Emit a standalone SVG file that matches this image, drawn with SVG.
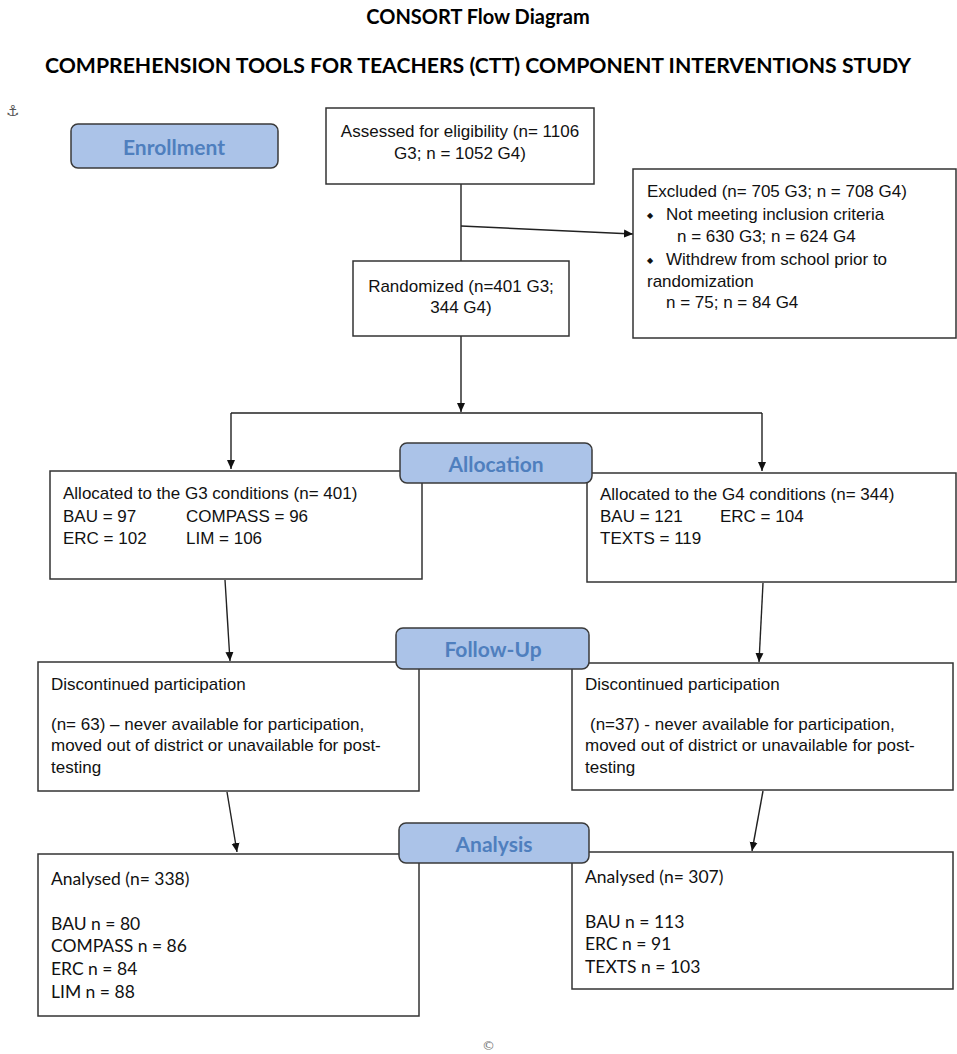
<svg xmlns="http://www.w3.org/2000/svg" width="957" height="1054" viewBox="0 0 957 1054">
<style>
.box{fill:#fff;stroke:#333;stroke-width:1.5}
.lab{fill:#abc3e8;stroke:#3a3a3a;stroke-width:1.5}
.labt{font-family:Lato,"Open Sans",sans-serif;font-weight:bold;font-size:21px;fill:#4f7fbe;text-anchor:middle}
.t{font-family:"Liberation Sans",Arial,sans-serif;font-size:17px;fill:#111}
.c{font-family:Lato,"Open Sans",sans-serif;font-size:17.5px;fill:#111}
.title{font-family:Lato,"Open Sans",sans-serif;font-weight:bold;fill:#000;text-anchor:middle}
.ln{fill:none;stroke:#222;stroke-width:1.4}
.bul{font-family:"DejaVu Sans",sans-serif;font-size:8px;fill:#111}
</style>
<defs>
<marker id="ah" markerWidth="10" markerHeight="10" refX="9" refY="5" orient="auto" markerUnits="userSpaceOnUse">
<path d="M0,1 L9,5 L0,9 Z" fill="#111"/>
</marker>
</defs>
<rect width="957" height="1054" fill="#fff"/>
<g id="titles">
<text class="title" x="478" y="24" font-size="20">CONSORT Flow Diagram</text>
<text class="title" x="478" y="73" font-size="21" textLength="866" lengthAdjust="spacingAndGlyphs">COMPREHENSION TOOLS FOR TEACHERS (CTT) COMPONENT INTERVENTIONS STUDY</text>
<text x="6" y="116" font-family="DejaVu Sans,sans-serif" font-size="15" fill="#555">⚓</text>
<text x="482" y="1050" font-family="DejaVu Sans,sans-serif" font-size="13" fill="#777">©</text>
</g>
<g id="connectors">
<line class="ln" x1="461" y1="184" x2="461" y2="261"/>
<line class="ln" x1="461" y1="226" x2="633" y2="234" marker-end="url(#ah)"/>
<line class="ln" x1="461" y1="336" x2="461" y2="412" marker-end="url(#ah)"/>
<line class="ln" x1="231" y1="413" x2="762" y2="413"/>
<line class="ln" x1="231" y1="413" x2="231" y2="469" marker-end="url(#ah)"/>
<line class="ln" x1="762" y1="413" x2="762" y2="471" marker-end="url(#ah)"/>
<line class="ln" x1="225" y1="580" x2="230" y2="661" marker-end="url(#ah)"/>
<line class="ln" x1="763" y1="583" x2="759" y2="662" marker-end="url(#ah)"/>
<line class="ln" x1="227" y1="792" x2="237" y2="852" marker-end="url(#ah)"/>
<line class="ln" x1="763" y1="791" x2="752" y2="851" marker-end="url(#ah)"/>
</g>
<g id="enrollment">
<rect class="lab" x="71" y="124" width="207" height="44" rx="7"/>
<text class="labt" x="174" y="155">Enrollment</text>
</g>
<g id="assessed">
<rect class="box" x="326" y="108" width="268" height="76"/>
<text class="t" x="460" y="137" text-anchor="middle">Assessed for eligibility (n= 1106</text>
<text class="t" x="460" y="159" text-anchor="middle">G3; n = 1052 G4)</text>
</g>
<g id="excluded">
<rect class="box" x="633" y="169" width="323" height="169"/>
<text class="t" x="647" y="197">Excluded (n= 705 G3; n = 708 G4)</text>
<text class="bul" x="647" y="218">◆</text>
<text class="t" x="666" y="220">Not meeting inclusion criteria</text>
<text class="t" x="677" y="242">n = 630 G3; n = 624 G4</text>
<text class="bul" x="647" y="263">◆</text>
<text class="t" x="666" y="265">Withdrew from school prior to</text>
<text class="t" x="647" y="287">randomization</text>
<text class="t" x="666" y="308">n = 75; n = 84 G4</text>
</g>
<g id="randomized">
<rect class="box" x="353" y="261" width="216" height="75"/>
<text class="t" x="461" y="292" text-anchor="middle">Randomized (n=401 G3;</text>
<text class="t" x="461" y="313" text-anchor="middle">344 G4)</text>
</g>
<g id="alloc-g3">
<rect class="box" x="50" y="471" width="372" height="108"/>
<text class="t" x="63" y="499">Allocated to the G3 conditions (n= 401)</text>
<text class="t" x="63" y="522">BAU = 97</text>
<text class="t" x="186" y="522">COMPASS = 96</text>
<text class="t" x="63" y="544">ERC = 102</text>
<text class="t" x="186" y="544">LIM = 106</text>
</g>
<g id="alloc-g4">
<rect class="box" x="587" y="473" width="369" height="109"/>
<text class="t" x="600" y="500">Allocated to the G4 conditions (n= 344)</text>
<text class="t" x="600" y="522">BAU = 121</text>
<text class="t" x="720" y="522">ERC = 104</text>
<text class="t" x="600" y="544">TEXTS = 119</text>
</g>
<g id="allocation">
<rect class="lab" x="400" y="443" width="192" height="40" rx="7"/>
<text class="labt" x="496" y="472">Allocation</text>
</g>
<g id="disc-g3">
<rect class="box" x="38" y="662" width="381" height="129"/>
<text class="t" x="51" y="690">Discontinued participation</text>
<text class="t" x="51" y="730">(n= 63) – never available for participation,</text>
<text class="t" x="51" y="751">moved out of district or unavailable for post-</text>
<text class="t" x="51" y="773">testing</text>
</g>
<g id="disc-g4">
<rect class="box" x="572" y="663" width="381" height="127"/>
<text class="t" x="585" y="690">Discontinued participation</text>
<text class="t" x="590" y="730">(n=37) - never available for participation,</text>
<text class="t" x="585" y="751">moved out of district or unavailable for post-</text>
<text class="t" x="585" y="773">testing</text>
</g>
<g id="followup">
<rect class="lab" x="396" y="628" width="193" height="41" rx="7"/>
<text class="labt" x="493" y="657">Follow-Up</text>
</g>
<g id="anal-g3">
<rect class="box" x="38" y="854" width="381" height="162"/>
<text class="c" x="51" y="885">Analysed (n= 338)</text>
<text class="c" x="51" y="930">BAU n = 80</text>
<text class="c" x="51" y="952">COMPASS n = 86</text>
<text class="c" x="51" y="975">ERC n = 84</text>
<text class="c" x="51" y="998">LIM n = 88</text>
</g>
<g id="anal-g4">
<rect class="box" x="572" y="852" width="381" height="137"/>
<text class="c" x="585" y="883">Analysed (n= 307)</text>
<text class="c" x="585" y="928">BAU n = 113</text>
<text class="c" x="585" y="950">ERC n = 91</text>
<text class="c" x="585" y="973">TEXTS n = 103</text>
</g>
<g id="analysis">
<rect class="lab" x="399" y="823" width="190" height="40" rx="7"/>
<text class="labt" x="494" y="852">Analysis</text>
</g>
</svg>
